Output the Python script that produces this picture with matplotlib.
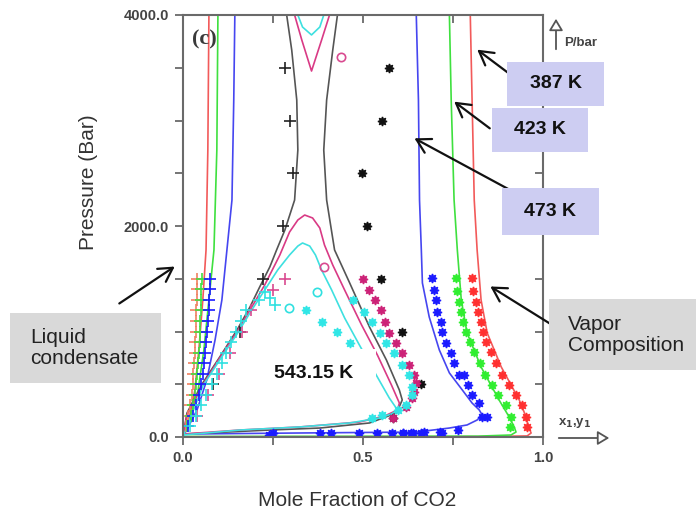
import numpy as np
import matplotlib.pyplot as plt
from matplotlib.patches import Rectangle

plt.rcParams['font.family'] = ['Liberation Sans', 'DejaVu Sans']

W, H = 696, 514

# ---- model curves (x = mole fraction CO2, P in bar) ----
red_liq_x = [0.072, 0.069, 0.064, 0.055, 0.044, 0.033, 0.019, 0.0]
red_liq_p = [4000, 2720, 1773, 1299, 825, 445, 209, 0]
green_liq_x = [0.097, 0.094, 0.086, 0.072, 0.058, 0.042, 0.022, 0.0]
green_liq_p = [4000, 2720, 1773, 1299, 825, 445, 209, 0]
blue_liq_x = [0.144, 0.141, 0.136, 0.122, 0.108, 0.089, 0.066, 0.039, 0.0]
blue_liq_p = [4000, 3194, 2246, 1773, 1299, 919, 540, 256, 0]

red_vap_x = [0.798, 0.803, 0.809, 0.817, 0.828, 0.845, 0.884, 0.934, 0.953, 0.961, 0.967, 0.956, 0.82, 0.0]
red_vap_p = [4000, 3194, 2246, 1773, 1299, 986, 664, 351, 190, 85, 38, 10, 3, 2]
green_vap_x = [0.740, 0.745, 0.753, 0.762, 0.773, 0.789, 0.828, 0.878, 0.906, 0.920, 0.925, 0.911, 0.82, 0.0]
green_vap_p = [4000, 3194, 2246, 1773, 1299, 986, 664, 351, 190, 95, 47, 19, 8, 5]
blue_vap_x = [0.648, 0.654, 0.657, 0.662, 0.665, 0.684, 0.712, 0.740, 0.776, 0.803, 0.823, 0.831,
              0.817, 0.789, 0.740, 0.648, 0.324, 0.0]
blue_vap_p = [4000, 3194, 2246, 1773, 1460, 1137, 825, 607, 445, 322, 256, 209,
              161, 114, 85, 47, 38, 28]

black_left_x = [0.288, 0.302, 0.316, 0.319, 0.310, 0.283, 0.260, 0.241, 0.213, 0.186, 0.150, 0.102, 0.055, 0.011, 0.0]
black_left_p = [4000, 3668, 3194, 2720, 2246, 1962, 1773, 1611, 1422, 1232, 1014, 758, 512, 227, 0]
black_right_x = [0.429, 0.416, 0.399, 0.391, 0.399, 0.421, 0.463, 0.518, 0.565, 0.601, 0.609, 0.593, 0.518, 0.380, 0.241, 0.0]
black_right_p = [4000, 3668, 3194, 2720, 2246, 1773, 1460, 1043, 730, 445, 351, 227, 133, 85, 66, 28]

mag_top_x = [0.310, 0.330, 0.357, 0.385, 0.407]
mag_top_p = [4000, 3763, 3469, 3763, 4000]
mag_low_x = [0.0, 0.011, 0.055, 0.102, 0.150, 0.191, 0.227, 0.269, 0.296, 0.319, 0.338, 0.360, 0.380,
             0.393, 0.416, 0.449, 0.496, 0.540, 0.579, 0.601, 0.596, 0.560, 0.490, 0.324, 0.158, 0.0]
mag_low_p = [0, 209, 493, 749, 995, 1232, 1441, 1725, 1943, 2057, 2104, 2076, 1981,
             1820, 1630, 1393, 1062, 777, 493, 322, 256, 199, 142, 95, 66, 28]

cyan_top_x = [0.319, 0.332, 0.357, 0.380, 0.391]
cyan_top_p = [4000, 3886, 3811, 3886, 4000]
cyan_low_x = [0.0, 0.055, 0.102, 0.150, 0.191, 0.227, 0.263, 0.296, 0.319, 0.332, 0.352, 0.368, 0.385,
              0.413, 0.449, 0.490, 0.532, 0.573, 0.596, 0.579, 0.546, 0.463, 0.324, 0.158, 0.0]
cyan_low_p = [0, 483, 730, 976, 1204, 1393, 1583, 1725, 1810, 1839, 1810, 1725, 1583,
              1393, 1128, 872, 616, 370, 256, 218, 180, 133, 95, 66, 19]

# ---- experimental points ----
liq_p = [1500, 1400, 1300, 1200, 1100, 1000, 900, 800, 700, 600, 500, 400, 300, 200, 100]
red_plus_x = [0.040, 0.039, 0.038, 0.037, 0.036, 0.035, 0.034, 0.033, 0.031, 0.029, 0.027, 0.024, 0.020, 0.015, 0.009]
green_plus_x = [0.052, 0.051, 0.050, 0.049, 0.048, 0.047, 0.046, 0.044, 0.042, 0.040, 0.037, 0.033, 0.028, 0.021, 0.012]
blue_plus_x = [0.075, 0.074, 0.073, 0.071, 0.069, 0.067, 0.065, 0.062, 0.059, 0.055, 0.050, 0.045, 0.037, 0.027, 0.015]

vap_p = [1507, 1384, 1280, 1185, 1090, 995, 900, 806, 701, 588, 493, 398, 303, 190, 95]
red_star_x = [0.803, 0.806, 0.814, 0.820, 0.828, 0.834, 0.842, 0.856, 0.870, 0.886, 0.906, 0.925, 0.942, 0.953, 0.956]
green_star_x = [0.758, 0.762, 0.767, 0.772, 0.778, 0.786, 0.797, 0.808, 0.824, 0.840, 0.857, 0.876, 0.896, 0.911, 0.909]

blue_star_x = [0.693, 0.697, 0.703, 0.706, 0.717, 0.720, 0.731, 0.745, 0.753, 0.767, 0.781, 0.792, 0.803, 0.823,
               0.831, 0.845, 0.765, 0.715, 0.662, 0.634, 0.610, 0.72, 0.67, 0.64, 0.61, 0.58, 0.54, 0.49, 0.41, 0.38, 0.24, 0.25]
blue_star_p = [1507, 1393, 1299, 1185, 1090, 995, 891, 796, 701, 588, 588, 493, 398, 322,
               190, 190, 66, 47, 38, 38, 38, 42, 44, 40, 40, 40, 40, 42, 40, 40, 20, 35]

black_star_x = [0.573, 0.554, 0.496, 0.512, 0.551, 0.607, 0.662, 0.582]
black_star_p = [3500, 3000, 2500, 2000, 1500, 1000, 500, 180]
black_plus_x = [0.283, 0.296, 0.305, 0.277, 0.222, 0.158, 0.083]
black_plus_p = [3500, 3000, 2500, 2000, 1500, 1000, 500]

mag_star_x = [0.499, 0.518, 0.532, 0.551, 0.560, 0.573, 0.593, 0.609, 0.629, 0.643, 0.648, 0.643, 0.637, 0.620, 0.582]
mag_star_p = [1498, 1393, 1299, 1204, 1090, 986, 891, 796, 682, 588, 512, 427, 370, 284, 180]
mag_plus_x = [0.283, 0.249, 0.190, 0.165, 0.130, 0.100, 0.070, 0.040]
mag_plus_p = [1500, 1393, 1200, 1000, 800, 600, 400, 200]
mag_circ_x = [0.391, 0.438]
mag_circ_p = [1611, 3602]

cyan_star_x = [0.343, 0.385, 0.427, 0.465, 0.504,
               0.471, 0.504, 0.526, 0.546, 0.565, 0.587, 0.607, 0.629, 0.637, 0.637, 0.620, 0.596, 0.554, 0.526]
cyan_star_p = [1204, 1090, 995, 891, 777,
               1299, 1185, 1090, 986, 891, 796, 682, 588, 474, 398, 303, 256, 209, 180]
cyan_plus_x = [0.227, 0.241, 0.255, 0.210, 0.175, 0.160, 0.146, 0.133, 0.120, 0.108, 0.095, 0.080, 0.065, 0.050, 0.035, 0.020]
cyan_plus_p = [1374, 1318, 1251, 1300, 1200, 1100, 1000, 900, 800, 700, 600, 500, 400, 300, 200, 100]
cyan_circ_x = [0.294, 0.371]
cyan_circ_p = [1223, 1374]

c_red = '#f25a5a'
c_green = '#3fe03f'
c_blue = '#4646f0'
c_black = '#555555'
c_mag = '#d93a85'
c_cyan = '#3ee0e0'

fig = plt.figure(figsize=(W / 100, H / 100), dpi=100)
ax = fig.add_axes([183 / W, 1 - 437 / H, 360 / W, 422 / H])

lw = 1.2
for xs, ps, c in [(red_liq_x, red_liq_p, c_red), (green_liq_x, green_liq_p, c_green),
                  (blue_liq_x, blue_liq_p, c_blue), (red_vap_x, red_vap_p, c_red),
                  (green_vap_x, green_vap_p, c_green), (blue_vap_x, blue_vap_p, c_blue),
                  (black_left_x, black_left_p, c_black), (black_right_x, black_right_p, c_black),
                  (mag_top_x, mag_top_p, c_mag), (mag_low_x, mag_low_p, c_mag),
                  (cyan_top_x, cyan_top_p, c_cyan), (cyan_low_x, cyan_low_p, c_cyan)]:
    ax.plot(xs, ps, color=c, lw=lw)

star = (8, 1, 0)
ms = 6.5
ax.plot(red_star_x, vap_p, ls='none', marker=star, ms=ms, color='#ff3030')
ax.plot(green_star_x, vap_p, ls='none', marker=star, ms=ms, color='#30ee30')
ax.plot(blue_star_x, blue_star_p, ls='none', marker=star, ms=ms, color='#1a1aff')
ax.plot(black_star_x, black_star_p, ls='none', marker=star, ms=ms, color='#111111')
ax.plot(mag_star_x, mag_star_p, ls='none', marker=star, ms=ms, color='#cc2277')
ax.plot(cyan_star_x, cyan_star_p, ls='none', marker=star, ms=ms, color='#30e6e6')

pm = dict(ls='none', marker='+', ms=8, mew=1.2)
ax.plot(red_plus_x, liq_p, color='#f08060', **pm)
ax.plot(green_plus_x, liq_p, color='#40e040', **pm)
ax.plot(blue_plus_x, liq_p, color='#1a1aff', **pm)
ax.plot(black_plus_x, black_plus_p, color='#222222', **pm)
ax.plot(mag_plus_x, mag_plus_p, color='#d94a90', **pm)
ax.plot(cyan_plus_x, cyan_plus_p, color='#30e0e0', **pm)

ax.plot(mag_circ_x, mag_circ_p, ls='none', marker='o', ms=6, mfc='none', mec='#d94a90', mew=1.2)
ax.plot(cyan_circ_x, cyan_circ_p, ls='none', marker='o', ms=6, mfc='none', mec='#30e0e0', mew=1.2)

ax.set_xlim(0, 1)
ax.set_ylim(0, 4000)
for s in ax.spines.values():
    s.set_color('#6a6a6a')
    s.set_linewidth(1.5)

ax.set_yticks(np.arange(0, 4001, 500))
ax.set_yticklabels(['0.0', '', '', '', '2000.0', '', '', '', '4000.0'])
ax.set_xticks([0, 0.25, 0.5, 0.75, 1.0])
ax.set_xticklabels(['0.0', '', '0.5', '', '1.0'])
ax.tick_params(direction='out', length=6, width=1.3, color='#6a6a6a',
               labelsize=10.5, labelcolor='#444444', pad=4)
for lab in ax.get_xticklabels() + ax.get_yticklabels():
    lab.set_fontweight('bold')

top = ax.secondary_xaxis('top')
top.set_xticks([0.25, 0.5, 0.75])
top.set_xticklabels([])
top.tick_params(direction='in', length=6, width=1.3, color='#6a6a6a')
top.spines['top'].set_visible(False)
right = ax.secondary_yaxis('right')
right.set_yticks(np.arange(500, 4000, 500))
right.set_yticklabels([])
right.tick_params(direction='in', length=6, width=1.3, color='#6a6a6a')
right.spines['right'].set_visible(False)

ax.text(0.025, 0.965, '(c)', transform=ax.transAxes, fontsize=16, fontweight='bold',
        family='Liberation Serif', color='#3a3a3a', va='top', ha='left')


def fp(px, py):
    return (px / W, 1 - py / H)


fig.text(*fp(88, 182), 'Pressure (Bar)', rotation=90, fontsize=15, color='#333333',
         ha='center', va='center')
fig.text(*fp(357, 500), 'Mole Fraction of CO2', fontsize=15, color='#333333',
         ha='center', va='center')

# axis arrows at the right
ax.annotate('', xy=fp(556, 16), xytext=fp(556, 52), xycoords='figure fraction',
            arrowprops=dict(arrowstyle='-|>,head_length=0.5,head_width=0.3', fc='white',
                            ec='#555555', lw=1.3, mutation_scale=14))
fig.text(*fp(564, 43), 'P/bar', fontsize=9.5, fontweight='bold', color='#444444',
         ha='left', va='center')
ax.annotate('', xy=fp(612, 438), xytext=fp(556, 438), xycoords='figure fraction',
            arrowprops=dict(arrowstyle='-|>,head_length=0.5,head_width=0.3', fc='white',
                            ec='#555555', lw=1.3, mutation_scale=14))
fig.text(*fp(558, 423), r'x$_\mathbf{1}$,y$_\mathbf{1}$', fontsize=9.5, fontweight='bold',
         color='#444444', ha='left', va='center')


def box(x0, y0, x1, y1, color):
    fig.add_artist(Rectangle(fp(x0, y1), (x1 - x0) / W, (y1 - y0) / H,
                             transform=fig.transFigure, facecolor=color,
                             edgecolor='none', zorder=5))


box(10, 313, 161, 383, '#d9d9d9')
fig.text(*fp(30, 348), 'Liquid\ncondensate', fontsize=15, color='#222222',
         ha='left', va='center', linespacing=1.1, zorder=6)
box(549, 299, 696, 370, '#d9d9d9')
fig.text(*fp(568, 335), 'Vapor\nComposition', fontsize=15, color='#222222',
         ha='left', va='center', linespacing=1.1, zorder=6)

lav = '#cdcdf2'
for (x0, y0, x1, y1, s) in [(507, 62, 604, 106, '387 K'), (492, 108, 588, 152, '423 K'),
                            (502, 188, 599, 235, '473 K')]:
    box(x0, y0, x1, y1, lav)
    fig.text(*fp((x0 + x1) / 2, (y0 + y1) / 2), s, fontsize=14, fontweight='bold',
             color='#111111', ha='center', va='center', zorder=6)

box(258, 349, 376, 399, 'white')
fig.text(*fp(314, 373), '543.15 K', fontsize=14, fontweight='bold', color='#111111',
         ha='center', va='center', zorder=6)

arr = dict(arrowstyle='->,head_length=0.7,head_width=0.4', color='#111111', lw=1.6,
           mutation_scale=14)
for tail, head in [((117, 305), (177, 265)), ((557, 328), (488, 285)),
                   ((515, 78), (475, 48)), ((492, 130), (452, 100)),
                   ((523, 197), (412, 137))]:
    a = ax.annotate('', xy=fp(*head), xytext=fp(*tail), xycoords='figure fraction',
                    arrowprops=arr)
    a.set_zorder(7)

fig.savefig('out.png', dpi=100)
